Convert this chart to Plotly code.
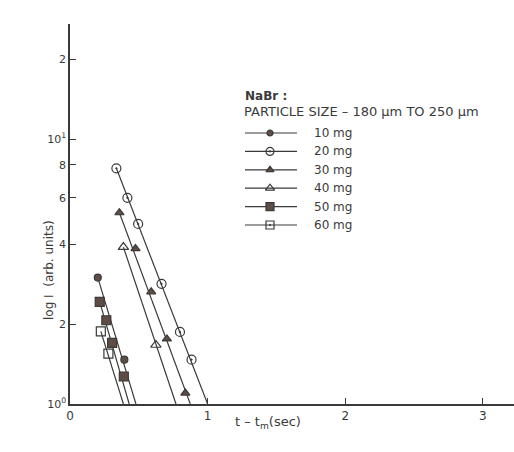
import plotly.graph_objects as go

# ---- data ----
series_names = ["10 mg", "20 mg", "30 mg", "40 mg", "50 mg", "60 mg"]
t_10 = [0.202, 0.395]
I_10 = [3.0, 1.47]
t_20 = [0.337, 0.417, 0.495, 0.665, 0.799, 0.883]
I_20 = [7.75, 6.0, 4.78, 2.84, 1.87, 1.47]
t_30 = [0.359, 0.476, 0.590, 0.704, 0.838]
I_30 = [5.27, 3.86, 2.65, 1.76, 1.10]
t_40 = [0.388, 0.624]
I_40 = [3.91, 1.67]
t_50 = [0.216, 0.264, 0.306, 0.391]
I_50 = [2.43, 2.07, 1.70, 1.27]
t_60 = [0.224, 0.279]
I_60 = [1.88, 1.55]
# straight-line fits drawn through each series: end point on the t axis (I = 10^0)
line_end_t = [0.479, 1.0, 0.874, 0.770, 0.430, 0.388]

x_tickvals = [0, 1, 2, 3]
x_ticktext = ["0", "1", "2", "3"]
y_tickvals = [1, 2, 4, 6, 8, 10, 20]
y_ticktext = ["10<sup>0</sup>", "2", "4", "6", "8", "10<sup>1</sup>", "2"]

ts = [t_10, t_20, t_30, t_40, t_50, t_60]
Is = [I_10, I_20, I_30, I_40, I_50, I_60]

# ---- styling / layout ----
ink = "#3a3a3a"
fill = "#5e4d44"
symbols = ["circle", "circle-open-dot", "triangle-up", "triangle-up-open", "square", "square-open"]
leg_symbols = ["circle", "circle-open-dot", "triangle-up", "triangle-up-open", "square", "square-open-dot"]
sizes = [7, 9, 8, 9, 9, 9]

W, H = 514, 452
L, R, T, B = 70, 0, 24, 48
pw, ph = W - L - R, H - T - B

def px(x):
    return (x - L) / pw

def py(y):
    return (H - B - y) / ph

def mcolor(sym):
    return ink if "open" in sym else fill

fig = go.Figure()
for i in range(6):
    fig.add_trace(go.Scatter(
        x=[ts[i][0], line_end_t[i]], y=[Is[i][0], 1.0], mode="lines",
        line=dict(color=ink, width=1.2), showlegend=False, hoverinfo="skip"))
    fig.add_trace(go.Scatter(
        x=ts[i], y=Is[i], mode="markers", name=series_names[i],
        marker=dict(symbol=symbols[i], size=sizes[i], color=mcolor(symbols[i]),
                    line=dict(color=ink, width=1.2)),
        showlegend=False))

# ---- hand-drawn legend on a pixel-scaled overlay axis ----
leg_x0, leg_x1, leg_xm, leg_text_x = 245, 297, 270, 312
leg_y0, leg_dy = 133, 18.4
for i in range(6):
    yy = leg_y0 + i * leg_dy
    fig.add_trace(go.Scatter(
        x=[leg_x0, leg_x1], y=[yy, yy], mode="lines", xaxis="x2", yaxis="y2",
        line=dict(color=ink, width=1.2), showlegend=False, hoverinfo="skip"))
    fig.add_trace(go.Scatter(
        x=[leg_xm], y=[yy], mode="markers", xaxis="x2", yaxis="y2",
        marker=dict(symbol=leg_symbols[i], size=sizes[i] - 1, color=mcolor(leg_symbols[i]),
                    line=dict(color=ink, width=1.2)),
        showlegend=False, hoverinfo="skip"))
    fig.add_annotation(text=series_names[i], x=leg_text_x, y=yy, xref="x2", yref="y2",
                       xanchor="left", yanchor="middle", showarrow=False,
                       font=dict(size=12, color=ink))

fig.update_layout(
    width=W, height=H,
    margin=dict(l=L, r=R, t=T, b=B),
    paper_bgcolor="white", plot_bgcolor="white",
    font=dict(family="DejaVu Sans", size=11, color=ink),
    showlegend=False,
    xaxis2=dict(overlaying="x", range=[L, W - R], visible=False, fixedrange=True),
    yaxis2=dict(overlaying="y", range=[H - B, T], visible=False, fixedrange=True),
)

fig.update_xaxes(selector=dict(anchor="y"))
fig.update_layout(xaxis=dict(
    range=[0, 3.226], tickvals=x_tickvals, ticktext=x_ticktext,
    showgrid=False, zeroline=False, showline=True, linecolor=ink, linewidth=1.5,
    ticks="inside", ticklen=6, tickcolor=ink, tickfont=dict(size=12, color=ink)))
fig.update_layout(yaxis=dict(
    type="log", range=[0, 1.434], tickvals=y_tickvals, ticktext=y_ticktext,
    showgrid=False, zeroline=False, showline=True, linecolor=ink, linewidth=1.5,
    ticks="inside", ticklen=6, tickcolor=ink, tickfont=dict(size=11, color=ink)))

fig.add_annotation(text="<b>NaBr :</b>", x=px(243), y=py(96), xref="paper", yref="paper",
                   xanchor="left", yanchor="middle", showarrow=False, font=dict(size=12, color=ink))
fig.add_annotation(text="PARTICLE SIZE – 180 μm TO 250 μm", x=px(242), y=py(111), xref="paper", yref="paper",
                   xanchor="left", yanchor="middle", showarrow=False, font=dict(size=13, color=ink))
fig.add_annotation(text="log I  (arb. units)", x=px(40), y=py(270), xref="paper", yref="paper",
                   textangle=-90, showarrow=False, font=dict(size=12, color=ink))
fig.add_annotation(text="t – t<sub>m</sub>(sec)", x=px(268), y=py(433), xref="paper", yref="paper",
                   showarrow=False, font=dict(size=13, color=ink))

fig.write_html("out.html")
